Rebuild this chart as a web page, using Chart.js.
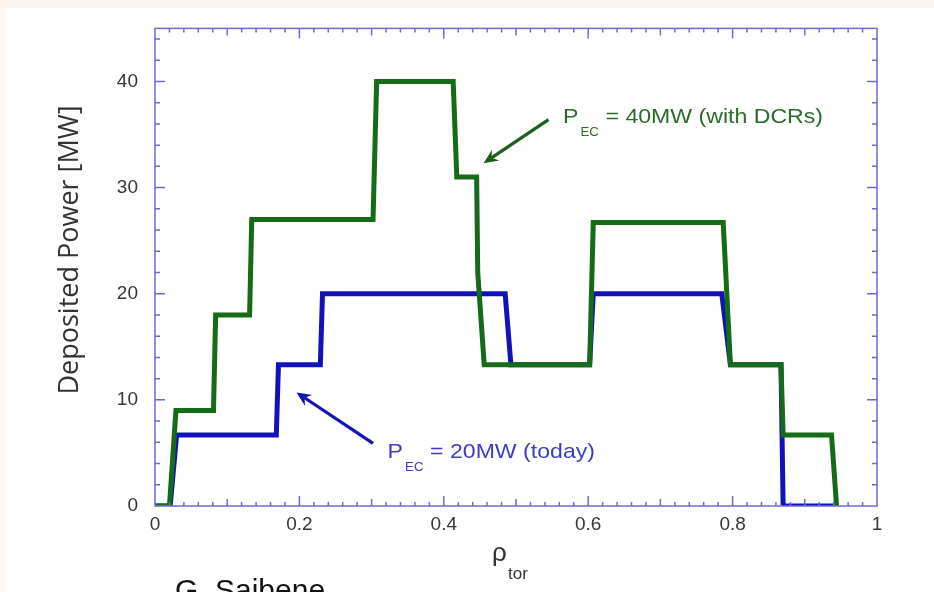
<!DOCTYPE html>
<html>
<head>
<meta charset="utf-8">
<script src="https://cdn.jsdelivr.net/npm/chart.js@4.4.1/dist/chart.umd.min.js"></script>
<style>
  html, body { margin: 0; padding: 0; background: #ffffff; }
  #wrap { width: 934px; height: 592px; }
</style>
</head>
<body>
<div id="wrap"><canvas id="myChart" width="934" height="592"></canvas></div>
<script>
// P_EC = 40MW (with DCRs)
const rhoGreen = [0, 0.020, 0.029, 0.081, 0.084, 0.131, 0.134, 0.302, 0.307, 0.413, 0.418, 0.4455, 0.447, 0.456, 0.602, 0.607, 0.787, 0.797, 0.867, 0.870, 0.937, 0.944];
const powGreen = [0, 0, 9, 9, 18, 18, 27, 27, 40, 40, 31, 31, 22, 13.3, 13.3, 26.7, 26.7, 13.3, 13.3, 6.7, 6.7, 0];

// P_EC = 20MW (today)
const rhoBlue = [0, 0.021, 0.030, 0.168, 0.171, 0.229, 0.232, 0.485, 0.493, 0.602, 0.607, 0.785, 0.797, 0.867, 0.870, 0.944];
const powBlue = [0, 0, 6.7, 6.7, 13.3, 13.3, 20, 20, 13.3, 13.3, 20, 20, 13.3, 13.3, 0, 0];

// axes
const xTickLabels = ['0', '0.2', '0.4', '0.6', '0.8', '1'];
const yTickLabels = ['0', '10', '20', '30', '40'];
const xRange = [0, 1];
const yRange = [0, 45];

// annotations: [text, subscript, rest, x, y] and arrows [x1, y1, x2, y2] in data units
const greenNote = ['P', 'EC', '= 40MW (with DCRs)', 0.565, 36.1];
const greenArrow = [0.545, 36.4, 0.455, 32.3];
const blueNote = ['P', 'EC', '= 20MW (today)', 0.322, 4.5];
const blueArrow = [0.302, 5.9, 0.196, 10.7];

const GREEN = '#156b17';
const BLUE = '#1212bd';
const FRAME = '#6b6bd6';

function toPoints(xs, ys) {
    var pts = [];
    for (var i = 0; i < xs.length; i++) {
        pts.push({ x: xs[i], y: ys[i] });
    }
    return pts;
}

function drawArrow(ctx, x1, y1, x2, y2, color) {
    var ang = Math.atan2(y2 - y1, x2 - x1);
    var head = 16, spread = 0.42;
    ctx.save();
    ctx.strokeStyle = color;
    ctx.fillStyle = color;
    ctx.lineWidth = 3.2;
    ctx.beginPath();
    ctx.moveTo(x1, y1);
    ctx.lineTo(x2 - Math.cos(ang) * 6, y2 - Math.sin(ang) * 6);
    ctx.stroke();
    ctx.beginPath();
    ctx.moveTo(x2, y2);
    ctx.lineTo(x2 - head * Math.cos(ang - spread), y2 - head * Math.sin(ang - spread));
    ctx.lineTo(x2 - head * 0.6 * Math.cos(ang), y2 - head * 0.6 * Math.sin(ang));
    ctx.lineTo(x2 - head * Math.cos(ang + spread), y2 - head * Math.sin(ang + spread));
    ctx.closePath();
    ctx.fill();
    ctx.restore();
}

function drawNote(ctx, note, xs, ys, color) {
    var x = xs.getPixelForValue(note[3]);
    var y = ys.getPixelForValue(note[4]);
    ctx.save();
    ctx.translate(x, y);
    ctx.scale(1.1, 1);
    ctx.fillStyle = color;
    ctx.textBaseline = 'alphabetic';
    ctx.textAlign = 'left';
    ctx.font = '21px "Liberation Sans", Arial, sans-serif';
    ctx.fillText(note[0], 0, 0);
    var w = ctx.measureText(note[0]).width;
    ctx.font = '12px "Liberation Sans", Arial, sans-serif';
    ctx.fillText(note[1], w + 2, 13);
    var w2 = ctx.measureText(note[1]).width;
    ctx.font = '21px "Liberation Sans", Arial, sans-serif';
    ctx.fillText(note[2], w + w2 + 8, 0);
    ctx.restore();
}

const decorPlugin = {
    id: 'decor',
    beforeDraw(chart) {
        var ctx = chart.ctx;
        ctx.save();
        ctx.fillStyle = '#ffffff';
        ctx.fillRect(0, 0, chart.width, chart.height);
        ctx.fillStyle = '#fcf5f0';
        ctx.fillRect(0, 0, chart.width, 8);
        ctx.fillRect(0, 0, 5, chart.height);
        ctx.restore();
    },
    afterDatasetsDraw(chart) {
        var ctx = chart.ctx;
        var xs = chart.scales.x, ys = chart.scales.y;
        var a = chart.chartArea;
        ctx.save();
        ctx.strokeStyle = FRAME;
        ctx.lineWidth = 1.5;
        ctx.strokeRect(a.left, a.top, a.right - a.left, a.bottom - a.top);
        // inward ticks on all four sides
        ctx.beginPath();
        for (var i = 1; i < 50; i++) {
            var v = i * 0.02;
            var px = xs.getPixelForValue(v);
            var len = (i % 10 === 0) ? 10 : (i % 5 === 0 ? 7 : 4);
            ctx.moveTo(px, a.bottom);
            ctx.lineTo(px, a.bottom - len);
            ctx.moveTo(px, a.top);
            ctx.lineTo(px, a.top + len);
        }
        for (var j = 1; j <= 22; j++) {
            var vy = j * 2;
            var py = ys.getPixelForValue(vy);
            var ly = (vy % 10 === 0) ? 10 : 5;
            ctx.moveTo(a.left, py);
            ctx.lineTo(a.left + ly, py);
            ctx.moveTo(a.right, py);
            ctx.lineTo(a.right - ly, py);
        }
        ctx.stroke();
        ctx.restore();

        drawArrow(ctx, xs.getPixelForValue(greenArrow[0]), ys.getPixelForValue(greenArrow[1]),
            xs.getPixelForValue(greenArrow[2]), ys.getPixelForValue(greenArrow[3]), '#1d5e1d');
        drawArrow(ctx, xs.getPixelForValue(blueArrow[0]), ys.getPixelForValue(blueArrow[1]),
            xs.getPixelForValue(blueArrow[2]), ys.getPixelForValue(blueArrow[3]), '#1414b8');
        drawNote(ctx, greenNote, xs, ys, '#2d6a2d');
        drawNote(ctx, blueNote, xs, ys, '#3c3cc4');
    },
    afterDraw(chart) {
        var ctx = chart.ctx;
        ctx.save();
        // y axis title
        ctx.fillStyle = '#333333';
        ctx.translate(70, 250);
        ctx.rotate(-Math.PI / 2);
        ctx.textAlign = 'center';
        ctx.textBaseline = 'middle';
        ctx.font = '27px "Open Sans", sans-serif';
        ctx.fillText('Deposited Power [MW]', 0, 0);
        ctx.restore();

        // x axis title: rho_tor
        ctx.save();
        ctx.fillStyle = '#333333';
        ctx.textAlign = 'left';
        ctx.textBaseline = 'alphabetic';
        ctx.font = '26px "Liberation Sans", Arial, sans-serif';
        ctx.fillText('\u03C1', 492, 561);
        ctx.font = '17px "Liberation Sans", Arial, sans-serif';
        ctx.fillText('tor', 508, 579);

        // speaker credit, cut off by the bottom edge
        ctx.fillStyle = '#111111';
        ctx.font = '30px "Liberation Sans", Arial, sans-serif';
        ctx.fillText('G. Saibene', 175, 600);
        ctx.restore();
    }
};

var ctx = document.getElementById('myChart');
var chart = new Chart(ctx, {
    type: 'scatter',
    data: {
        datasets: [{
            label: 'P_EC = 40MW (with DCRs)',
            data: toPoints(rhoGreen, powGreen),
            showLine: true,
            borderColor: GREEN,
            borderWidth: 5,
            pointRadius: 0,
            borderJoinStyle: 'miter',
            order: 1
        }, {
            label: 'P_EC = 20MW (today)',
            data: toPoints(rhoBlue, powBlue),
            showLine: true,
            borderColor: BLUE,
            borderWidth: 5,
            pointRadius: 0,
            borderJoinStyle: 'miter',
            order: 2
        }]
    },
    options: {
        responsive: false,
        animation: false,
        events: [],
        layout: { padding: { left: 0, top: 26, right: 57, bottom: 0 } },
        plugins: {
            legend: { display: false },
            tooltip: { enabled: false }
        },
        scales: {
            x: {
                type: 'linear',
                min: xRange[0],
                max: xRange[1],
                grid: { display: false, drawTicks: false },
                border: { display: false },
                afterFit: function (scale) { scale.height = 86; },
                afterBuildTicks: function (scale) {
                    scale.ticks = xTickLabels.map(function (t) { return { value: parseFloat(t) }; });
                },
                ticks: {
                    padding: 7,
                    color: '#363636',
                    font: { family: '"Liberation Sans", Arial, sans-serif', size: 19 },
                    callback: function (value, index) { return xTickLabels[index]; },
                    maxRotation: 0
                }
            },
            y: {
                min: yRange[0],
                max: yRange[1],
                grid: { display: false, drawTicks: false },
                border: { display: false },
                afterFit: function (scale) { scale.width = 155; },
                afterBuildTicks: function (scale) {
                    scale.ticks = yTickLabels.map(function (t) { return { value: parseFloat(t) }; });
                },
                ticks: {
                    padding: 17,
                    color: '#363636',
                    font: { family: '"Liberation Sans", Arial, sans-serif', size: 19 },
                    callback: function (value, index) { return yTickLabels[index]; }
                }
            }
        }
    },
    plugins: [decorPlugin]
});
</script>
</body>
</html>
